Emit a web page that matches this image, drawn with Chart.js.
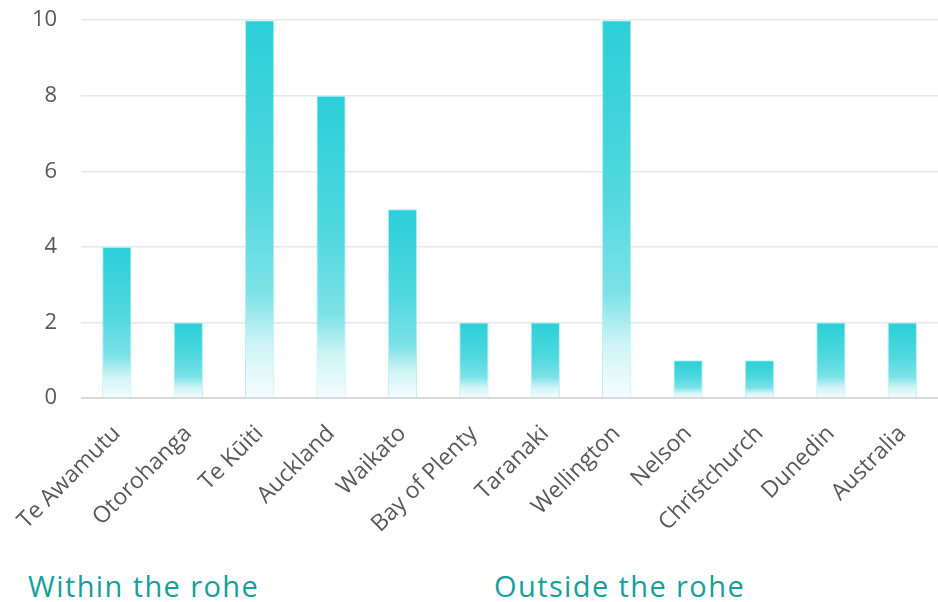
<!DOCTYPE html>
<html>
<head>
<meta charset="utf-8">
<script src="https://cdn.jsdelivr.net/npm/chart.js@4/dist/chart.umd.min.js"></script>
<style>
  html, body { margin: 0; padding: 0; background: #fff; overflow: hidden; }
  #wrap { position: relative; width: 938px; height: 602px; overflow: hidden; }
  #box { position: absolute; left: 0; top: -17px; width: 938px; height: 569px; }
  .group { position: absolute; top: 566px; font-family: "Open Sans", sans-serif; font-size: 29px; color: #14a09b; letter-spacing: 1.4px; }
</style>
</head>
<body>
<div id="wrap">
  <div id="box"><canvas id="chart-area"></canvas></div>
  <div class="group" style="left:28px">Within the rohe</div>
  <div class="group" style="left:494px">Outside the rohe</div>
</div>
<script>
  var places = ['Te Awamutu', 'Otorohanga', 'Te Kūiti', 'Auckland', 'Waikato', 'Bay of Plenty',
    'Taranaki', 'Wellington', 'Nelson', 'Christchurch', 'Dunedin', 'Australia'];
  var counts = [4, 2, 10, 8, 5, 2, 2, 10, 1, 1, 2, 2];
  var yTicks = [0, 2, 4, 6, 8, 10];

  // each bar gets its own fade, top cyan -> white at base
  function barFill(context) {
    var chart = context.chart;
    var y = chart.scales.y;
    if (!y || context.parsed === undefined) {
      return '#2bcfd8';
    }
    var top = y.getPixelForValue(context.parsed.y);
    var base = y.getPixelForValue(0);
    if (!isFinite(top) || !isFinite(base) || base - top < 1) {
      return '#2bcfd8';
    }
    var g = chart.ctx.createLinearGradient(0, top, 0, base);
    g.addColorStop(0, '#2bcfd8');
    g.addColorStop(0.45, '#4fd8de');
    g.addColorStop(0.72, '#7be2e7');
    g.addColorStop(0.86, '#d0f4f6');
    g.addColorStop(1, '#f5fdfd');
    return g;
  }

  var ctx = document.getElementById('chart-area').getContext('2d');
  window.myBars = new Chart(ctx, {
    type: 'bar',
    data: {
      labels: places,
      datasets: [{
        data: counts,
        backgroundColor: barFill,
        borderColor: 'rgba(150,232,236,0.7)',
        borderWidth: 1,
        categoryPercentage: 1,
        barPercentage: 0.41
      }]
    },
    options: {
      responsive: true,
      maintainAspectRatio: false,
      animation: false,
      layout: { padding: { top: 0, right: 0, left: 8, bottom: 0 } },
      plugins: { legend: { display: false }, tooltip: { enabled: false } },
      scales: {
        x: {
          grid: { display: false },
          border: { display: false },
          ticks: {
            color: '#595959',
            font: { family: 'Open Sans', size: 23 },
            minRotation: 45,
            maxRotation: 45,
            padding: 14
          }
        },
        y: {
          min: 0,
          max: 10,
          afterBuildTicks: function (axis) {
            axis.ticks = yTicks.map(function (v) { return { value: v }; });
          },
          grid: {
            color: function (c) { return c.tick && c.tick.value === 0 ? '#d9d9d9' : '#e8e8e8'; },
            lineWidth: function (c) { return c.tick && c.tick.value === 0 ? 2 : 1.5; },
            drawTicks: false
          },
          border: { display: false },
          ticks: {
            color: '#595959',
            font: { family: 'Open Sans', size: 22 },
            padding: 24
          }
        }
      }
    }
  });
</script>
</body>
</html>
